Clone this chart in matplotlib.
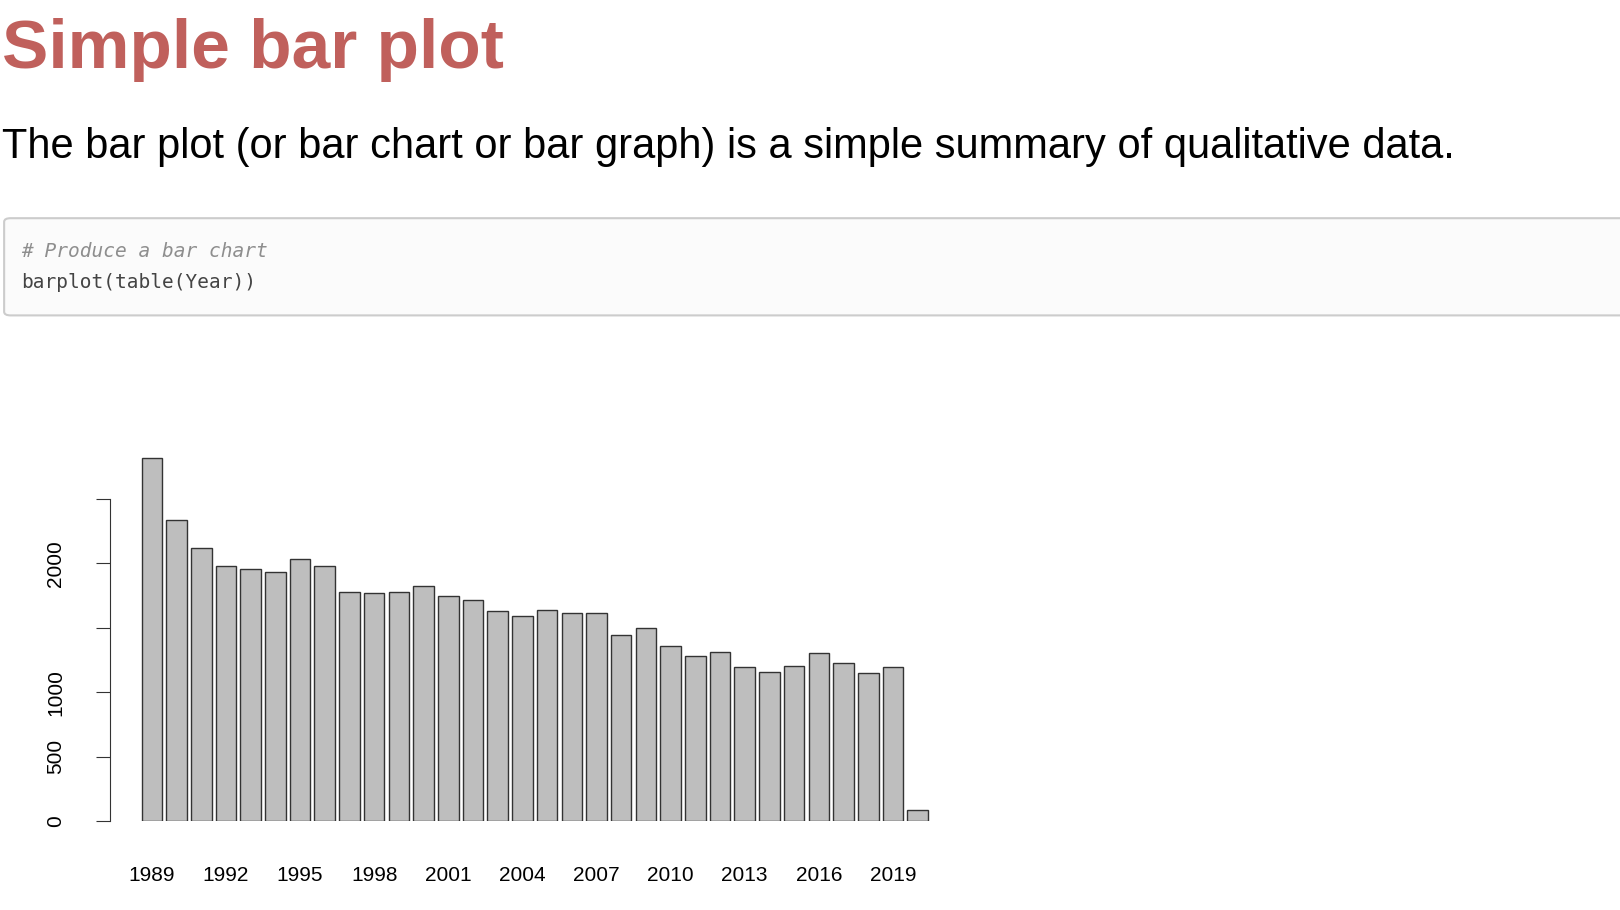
import matplotlib.pyplot as plt
import matplotlib.patches as patches
import numpy as np

years = list(range(1989, 2021))
counts = [2819, 2337, 2120, 1984, 1960, 1936, 2032, 1984, 1775, 1767, 1775, 1823,
          1751, 1719, 1631, 1590, 1639, 1614, 1614, 1446, 1502, 1357, 1285, 1309,
          1197, 1157, 1205, 1301, 1229, 1149, 1197, 88]
yticks = [0, 500, 1000, 1500, 2000, 2500]
ytick_labels = ['0', '500', '1000', '', '2000', '']

W, H = 1568.0, 880.0
def fx(p): return p / W
def fy(p): return 1 - p / H

fig = plt.figure(figsize=(16.2, 9.1), dpi=100)
fig.patch.set_facecolor('white')

fig.text(fx(2), fy(48), 'Simple bar plot', color='#c0605c', fontsize=50,
         fontweight='bold', family='Liberation Sans', va='center', ha='left')
fig.text(fx(2), fy(142), 'The bar plot (or bar chart or bar graph) is a simple summary of qualitative data.',
         color='black', fontsize=30, family='Liberation Sans', va='center', ha='left')

# code box
box = patches.FancyBboxPatch((fx(4), fy(305)), fx(1600), (305 - 211) / H,
                             boxstyle='round,pad=0,rounding_size=0.004',
                             transform=fig.transFigure, facecolor='#fbfbfb',
                             edgecolor='#cccccc', linewidth=1.5)
fig.patches.append(box)
fig.text(fx(20), fy(243), '# Produce a bar chart', color='#8e8e8e', fontsize=14,
         family='DejaVu Sans Mono', style='italic', va='center')
fig.text(fx(20), fy(273), 'barplot(table(Year))', color='#444444', fontsize=14,
         family='DejaVu Sans Mono', va='center')

# bar chart axes, R barplot geometry (width 1, space 0.2)
ax = fig.add_axes([fx(106), fy(794), fx(938 - 106), (794 - 439) / H])
x = 0.7 + 1.2 * np.arange(len(years))
ax.bar(x, counts, width=1.0, color='#bebebe', edgecolor='#333333', linewidth=1)
ax.set_xlim(-1.356, 40.4)
ax.set_ylim(0, 2850)
for s in ['top', 'right', 'bottom']:
    ax.spines[s].set_visible(False)
ax.spines['left'].set_bounds(0, 2500)
ax.spines['left'].set_color('#333333')
ax.set_yticks(yticks)
ax.set_yticklabels(ytick_labels, rotation=90, va='center', fontsize=15,
                   family='Liberation Sans')
ax.tick_params(axis='y', length=10, pad=22, colors='#333333', labelcolor='black')
ax.set_xticks(x[::3])
ax.set_xticklabels([str(y) for y in years[::3]], fontsize=15, family='Liberation Sans')
ax.tick_params(axis='x', length=0, pad=32)

fig.savefig('out.png', dpi=100)
